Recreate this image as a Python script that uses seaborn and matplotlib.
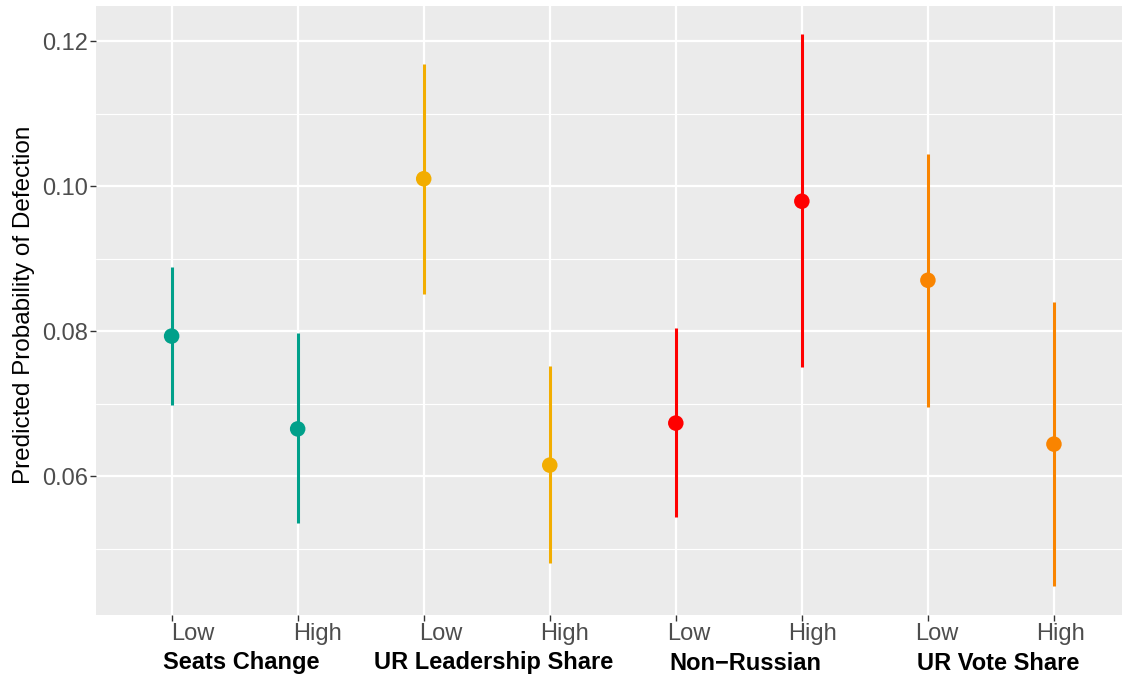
import numpy as np
import pandas as pd
import matplotlib
matplotlib.use("Agg")
import matplotlib.pyplot as plt
import matplotlib.transforms as mtransforms
from matplotlib.ticker import MultipleLocator
import seaborn as sns

# dados
grupos = ["Seats Change", "UR Leadership Share", "Non\u2212Russian", "UR Vote Share"]
niveis = ["Low", "High"]
estimativa = [0.0793, 0.0665, 0.1010, 0.0615, 0.0673, 0.0979, 0.0870, 0.0644]
inferior = [0.0698, 0.0535, 0.0851, 0.0480, 0.0543, 0.0750, 0.0695, 0.0448]
superior = [0.0888, 0.0797, 0.1168, 0.0752, 0.0804, 0.1210, 0.1044, 0.0840]
cores = ["#00A08A", "#F2AD00", "#FF0000", "#F98400"]

df = pd.DataFrame({
    "grupo": np.repeat(grupos, 2),
    "nivel": niveis * len(grupos),
    "est": estimativa,
    "lo": inferior,
    "hi": superior,
})
df["pos"] = np.arange(1, len(df) + 1)

sns.set_theme(style="darkgrid", rc={
    "axes.facecolor": "#EBEBEB",
    "grid.color": "white",
})
plt.rcParams["font.family"] = ["Liberation Sans", "DejaVu Sans"]

fig = plt.figure(figsize=(11.22, 6.79), dpi=100)
ax = fig.add_axes([96 / 1122, 64 / 679, 1 - 96 / 1122, 609 / 679])

paleta = dict(zip(grupos, cores))

# intervalos
for grupo, sub in df.groupby("grupo", sort=False):
    ax.vlines(sub["pos"], sub["lo"], sub["hi"], color=paleta[grupo], lw=2.2, zorder=3)

# pontos
sns.scatterplot(data=df, x="pos", y="est", hue="grupo", palette=paleta,
                s=125, linewidth=0, legend=False, ax=ax, zorder=4)

ax.set_xlim(0.4, 8.54)
ax.set_ylim(0.04083, 0.12483)
ax.yaxis.set_major_locator(MultipleLocator(0.02))
ax.yaxis.set_minor_locator(MultipleLocator(0.01))
ax.set_yticks([0.06, 0.08, 0.10, 0.12])
ax.set_yticklabels(["0.06", "0.08", "0.10", "0.12"])
ax.set_xticks(df["pos"])
ax.set_xticklabels(df["nivel"])

ax.grid(which="major", color="white", lw=1.6)
ax.grid(which="minor", axis="y", color="white", lw=0.8)
ax.grid(which="minor", axis="x", visible=False)
for s in ax.spines.values():
    s.set_visible(False)

ax.tick_params(axis="both", which="major", length=4, width=1, color="#333333",
               labelcolor="#4D4D4D", labelsize=17, left=True, bottom=True)
ax.tick_params(axis="y", which="minor", length=0)
ax.tick_params(axis="x", pad=2)
ax.tick_params(axis="y", pad=2)

# no original os rótulos ficam um pouco à direita das marcas
for i, lab in enumerate(ax.get_xticklabels()):
    dx = (21.6 - 2.2 * i) / 100
    lab.set_transform(lab.get_transform() + mtransforms.ScaledTranslation(dx, 0, fig.dpi_scale_trans))

ax.set_xlabel("")
ax.set_ylabel("Predicted Probability of Defection", fontsize=17.5, color="black")
ax.yaxis.set_label_coords(-0.0595, 0.51)

# rótulos dos grupos abaixo dos níveis
trans = mtransforms.blended_transform_factory(ax.transData, fig.transFigure)
trans = trans + mtransforms.ScaledTranslation(0.07, 0, fig.dpi_scale_trans)
for grupo, sub in df.groupby("grupo", sort=False):
    ax.text(sub["pos"].mean(), 1 - 663 / 679, grupo, transform=trans,
            ha="center", va="center", fontsize=17, fontweight="bold", color="black")

fig.savefig("out.png", dpi=100)
